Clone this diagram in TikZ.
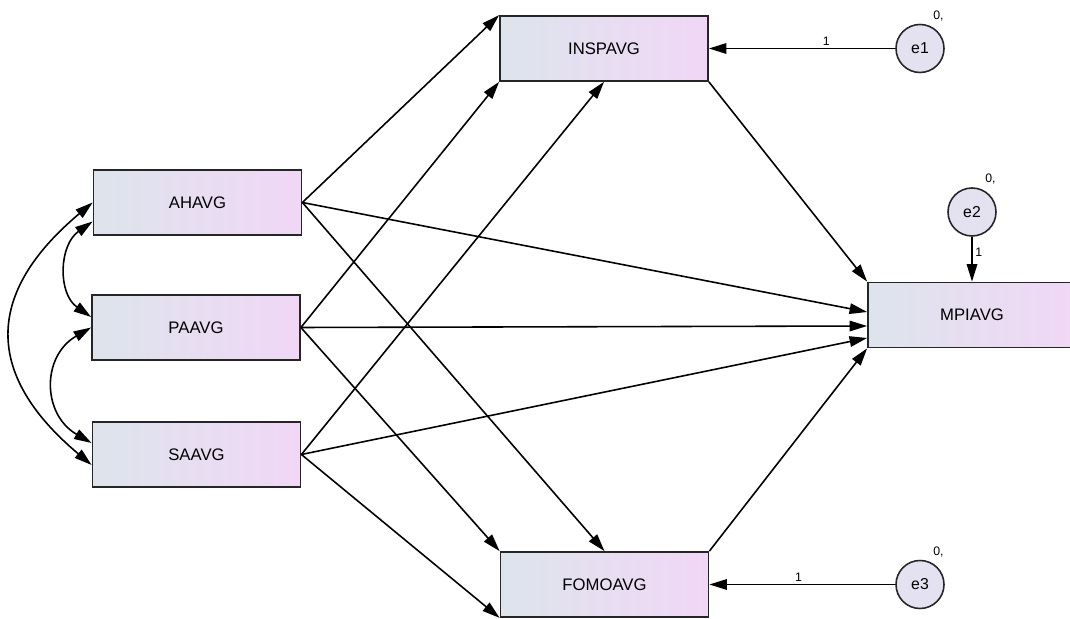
\documentclass[tikz,border=0pt]{standalone}
\usepackage{fontspec}
\setmainfont{Liberation Sans}
\usetikzlibrary{arrows.meta}
\definecolor{boxleft}{RGB}{221,228,236}
\definecolor{boxright}{RGB}{241,215,246}
\definecolor{errfill}{RGB}{228,225,240}
\tikzset{
	var/.style={draw=black!85, line width=1pt, minimum width=4.16cm, minimum height=1.3cm, inner sep=0pt, left color=boxleft, right color=boxright, font=\fontsize{9.5}{11}\selectfont},
	err/.style={circle, draw=black!85, line width=0.9pt, fill=errfill, minimum size=0.96cm, inner sep=0pt, font=\fontsize{9}{10}\selectfont, label={[wt, label distance=1pt]67:{0,}}},
	wt/.style={font=\fontsize{7}{8}\selectfont, inner sep=1.5pt},
	reg/.style={-{Triangle[length=10pt, width=6pt]}, line width=0.9pt},
	cov/.style={{Triangle[length=10pt, width=6pt]}-{Triangle[length=10pt, width=6pt]}, line width=0.9pt}
}

\begin{document}
\begin{tikzpicture}
			%%%%% START %%%%%
			
			\useasboundingbox (0, 0) rectangle (21.4, 12.36);
			
			\node[var] (insp) at (12.08, 11.39) {INSPAVG};
			\node[var] (ah) at (3.95, 8.31) {AHAVG};
			\node[var] (pa) at (3.92, 5.81) {PAAVG};
			\node[var] (sa) at (3.93, 3.27) {SAAVG};
			\node[var] (fomo) at (12.09, 0.67) {FOMOAVG};
			\node[var] (mpi) at (19.44, 6.06) {MPIAVG};
			
			\node[err] (e1) at (18.4, 11.39) {e1};
			\node[err] (e2) at (19.44, 8.12) {e2};
			\node[err] (e3) at (18.4, 0.67) {e3};
			
			\draw[reg] (ah.east) -- (insp.north west);
			\draw[reg] (ah.east) -- ([yshift=0.06cm]mpi.west);
			\draw[reg] (ah.east) -- (fomo.north);
			
			\draw[reg] (pa.east) -- (insp.south west);
			\draw[reg] (pa.east) -- ([yshift=-0.22cm]mpi.west);
			\draw[reg] (pa.east) -- (fomo.north west);
			
			\draw[reg] (sa.east) -- (insp.south);
			\draw[reg] (sa.east) -- ([yshift=-0.46cm]mpi.west);
			\draw[reg] (sa.east) -- (fomo.south west);
			
			\draw[reg] (insp.south east) -- (mpi.north west);
			\draw[reg] (fomo.north east) -- (mpi.south west);
			
			\draw[reg] (e1) -- node[wt, above, pos=0.37] {1} (insp);
			\draw[reg] (e2) -- node[wt, right, pos=0.35] {1} (mpi);
			\draw[reg] (e3) -- node[wt, above, pos=0.52] {1} (fomo);
			
			\draw[cov] ([yshift=-0.38cm]ah.west) to[out=215, in=145, looseness=1.1] ([yshift=0.21cm]pa.west);
			\draw[cov] (pa.west) to[out=210, in=150, looseness=1.27] ([yshift=0.23cm]sa.west);
			\draw[cov] (ah.west) to[out=220, in=140, looseness=1.37] ([yshift=-0.21cm]sa.west);
			
			%%%%% END %%%%%
\end{tikzpicture}
\end{document}
